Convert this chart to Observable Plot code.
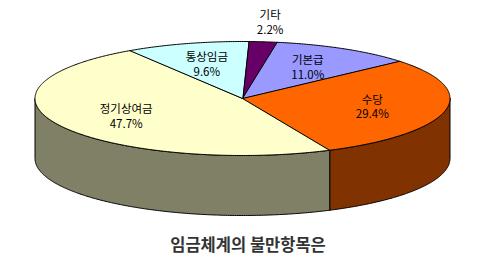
<!DOCTYPE html>
<html><head><meta charset="utf-8">
<script src="https://cdn.jsdelivr.net/npm/d3@7"></script>
<script src="https://cdn.jsdelivr.net/npm/@observablehq/plot@0.6"></script>
<style>body{margin:0;background:#fff;}</style>
</head><body><div id="chart"></div>
<script>
// ---- data ----
const categories = ["기타", "기본급", "수당", "정기상여금", "통상임금"];
const shares = [2.2, 11.0, 29.4, 47.7, 9.6];
const chartTitle = "임금체계의 불만항목은";

// ---- styles ----
const topPalette = ["#660066", "#9999FF", "#FF6600", "#FFFFCC", "#CCFFFF"];
const sidePalette = ["#330033", "#4D4D80", "#803300", "#808066", "#668080"];
const W = 479, H = 280;
const geom = {cx: 242, cy: 98, rx: 207.5, ry: 57, depth: 60, start: 1.7};
const font = "'Noto Sans CJK KR', 'Noto Sans', sans-serif";

// ---- geometry from data ----
const total = d3.sum(shares);
let acc = geom.start;
const slices = categories.map((c, i) => {
  const a0 = acc, a1 = acc + shares[i] / total * 360;
  acc = a1;
  return {c, v: shares[i], a0, a1, i};
});
const rad = d => d * Math.PI / 180;
const px = (a, r = 1) => geom.cx + geom.rx * r * Math.sin(rad(a));
const py = (a, r = 1) => geom.cy - geom.ry * r * Math.cos(rad(a));
function arc(a0, a1) {
  const n = Math.max(2, Math.ceil((a1 - a0) / 0.5));
  return d3.range(n + 1).map(k => a0 + (a1 - a0) * k / n);
}
const tops = [];
slices.forEach(s => {
  const fill = topPalette[s.i];
  tops.push({id: s.c, x: geom.cx, y: geom.cy, fill});
  arc(s.a0, s.a1).forEach(a => tops.push({id: s.c, x: px(a), y: py(a), fill}));
});
const sides = [];
slices.forEach(s => {
  const b0 = Math.max(s.a0, 90), b1 = Math.min(s.a1, 270);
  if (b1 <= b0) return;
  const fill = sidePalette[s.i];
  const as = arc(b0, b1);
  as.forEach(a => sides.push({id: s.c, x: px(a), y: py(a), fill}));
  as.slice().reverse().forEach(a => sides.push({id: s.c, x: px(a), y: py(a) + geom.depth, fill}));
});
const labels = slices.map(s => {
  const m = (s.a0 + s.a1) / 2;
  const r = s.v < 5 ? 1.35 : 0.64;
  return {x: px(m, r), y: py(m, r), text: `${s.c}\n${s.v.toFixed(1)}%`};
});

const chart = Plot.plot({
  width: W, height: H, margin: 0,
  x: {domain: [0, W], range: [0, W], axis: null},
  y: {domain: [0, H], range: [0, H], axis: null},
  color: {type: "identity"},
  style: {background: "#fff", fontFamily: font},
  marks: [
    Plot.line(sides, {x: "x", y: "y", z: "id", fill: "fill", stroke: "#000", strokeWidth: 1, curve: "linear-closed"}),
    Plot.line(tops, {x: "x", y: "y", z: "id", fill: "fill", stroke: "#000", strokeWidth: 1, curve: "linear-closed"}),
    Plot.text(labels, {x: "x", y: "y", text: "text", fontSize: 11.5, lineHeight: 1.3, fill: "#000", fontFamily: font}),
    Plot.text([chartTitle], {frameAnchor: "bottom", text: d => d, dx: 8, dy: -30, fontSize: 16.5, fontWeight: "bold", fill: "#333", fontFamily: font})
  ]
});
document.getElementById("chart").appendChild(chart);
</script>
</body></html>
